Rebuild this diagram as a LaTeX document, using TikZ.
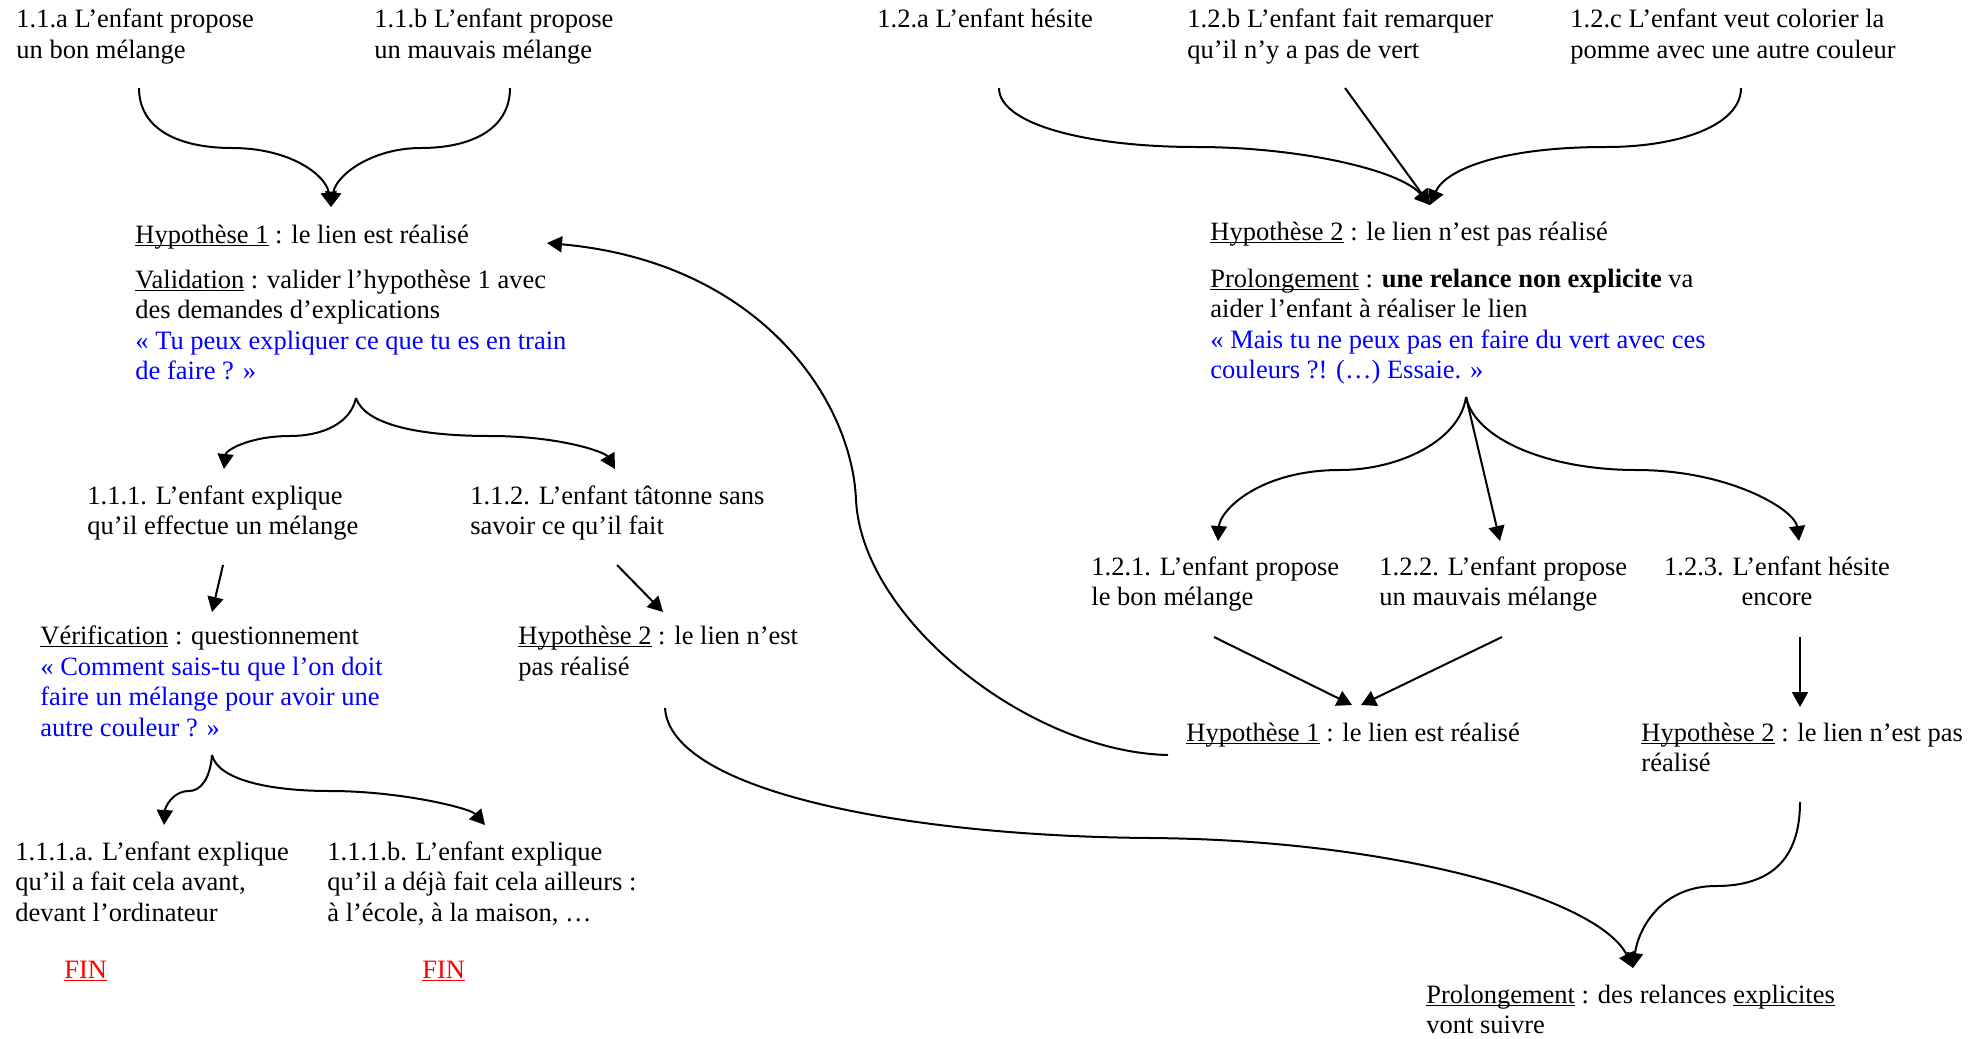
\documentclass[tikz,border=0pt]{standalone}
\usepackage{fontspec}
\setmainfont{Liberation Serif}
\usetikzlibrary{arrows.meta}
\definecolor{qblue}{RGB}{0,0,255}
\definecolor{finred}{RGB}{255,0,0}
\newsavebox{\ulbox}
\newcommand{\myul}[1]{\sbox{\ulbox}{#1}\rlap{\rule[-1.4pt]{\wd\ulbox}{0.65pt}}\usebox{\ulbox}}
\begin{document}
\begin{tikzpicture}[x=0.5pt,y=-0.5pt,
  txt/.style={anchor=base west,align=left,inner sep=0pt,font=\fontsize{13.25}{15.25}\selectfont},
  ctxt/.style={txt,anchor=base,align=center},
  conn/.style={line width=1pt,-{Triangle[length=7.5pt,width=8pt]}}]
\useasboundingbox (0,0) rectangle (1979,1038);

% ---- texts (positions are the baseline of the last line)
\node[txt] (n11a) at (16,58.5) {1.1.a L’enfant propose\\un bon mélange};
\node[txt] (n11b) at (374,58.5) {1.1.b L’enfant propose\\un mauvais mélange};
\node[txt] (n12a) at (877,28) {1.2.a L’enfant hésite};
\node[txt] (n12b) at (1187,58.5) {1.2.b L’enfant fait remarquer\\qu’il n’y a pas de vert};
\node[txt] (n12c) at (1570,58.5) {1.2.c L’enfant veut colorier la\\pomme avec une autre couleur};

\node[txt] (h1) at (135,379.5) {\myul{Hypothèse 1} : le lien est réalisé\\[7.25pt]\myul{Validation} : valider l’hypothèse 1 avec\\des demandes d’explications\\\textcolor{qblue}{« Tu peux expliquer ce que tu es en train}\\\textcolor{qblue}{de faire ? »}};
\node[txt] (h2) at (1210,378.5) {\myul{Hypothèse 2} : le lien n’est pas réalisé\\[8.25pt]\myul{Prolongement} : \textbf{une relance non explicite} va\\aider l’enfant à réaliser le lien\\\textcolor{qblue}{« Mais tu ne peux pas en faire du vert avec ces}\\\textcolor{qblue}{couleurs ?! (…) Essaie. »}};

\node[txt] (n111) at (87,534.5) {1.1.1. L’enfant explique\\qu’il effectue un mélange};
\node[txt] (n112) at (470,534.5) {1.1.2. L’enfant tâtonne sans\\savoir ce qu’il fait};
\node[txt] (verif) at (40,736) {\myul{Vérification} : questionnement\\\textcolor{qblue}{« Comment sais-tu que l’on doit}\\\textcolor{qblue}{faire un mélange pour avoir une}\\\textcolor{qblue}{autre couleur ? »}};
\node[txt] (h2l) at (518,675) {\myul{Hypothèse 2} : le lien n’est\\pas réalisé};
\node[txt] (n111a) at (15,921) {1.1.1.a. L’enfant explique\\qu’il a fait cela avant,\\devant l’ordinateur};
\node[txt] (n111b) at (327,921) {1.1.1.b. L’enfant explique\\qu’il a déjà fait cela ailleurs :\\à l’école, à la maison, …};
\node[txt,text=finred] (fin1) at (64,978) {\myul{FIN}};
\node[txt,text=finred] (fin2) at (422,978) {\myul{FIN}};

\node[txt] (n121) at (1091,605.5) {1.2.1. L’enfant propose\\le bon mélange};
\node[txt] (n122) at (1379,605.5) {1.2.2. L’enfant propose\\un mauvais mélange};
\node[ctxt] (n123) at (1777,605.5) {1.2.3. L’enfant hésite\\encore};
\node[txt] (h1r) at (1186,741) {\myul{Hypothèse 1} : le lien est réalisé};
\node[txt] (h2r) at (1641,771.5) {\myul{Hypothèse 2} : le lien n’est pas\\réalisé};
\node[txt] (prol) at (1426,1033.5) {\myul{Prolongement} : des relances \myul{explicites}\\vont suivre};

% ---- connector ends
\coordinate (a1) at (139,88);
\coordinate (a2) at (510,88);
\coordinate (t1) at (331,207);
\coordinate (b1) at (999,88);
\coordinate (b2) at (1345,88);
\coordinate (b3) at (1741,88);
\coordinate (t2) at (1430,205);
\coordinate (c0) at (356,398);
\coordinate (c1) at (224,469);
\coordinate (c2) at (615,469);
\coordinate (d0) at (212,755);
\coordinate (d1) at (164,825);
\coordinate (d2) at (485,825);
\coordinate (e0) at (1466,397);
\coordinate (e1) at (1218,541);
\coordinate (e2) at (1500,541);
\coordinate (e3) at (1799,541);
\coordinate (s1a) at (223,565);
\coordinate (s1b) at (212,612);
\coordinate (s2a) at (617,565);
\coordinate (s2b) at (663,612);
\coordinate (s3a) at (1214,637);
\coordinate (s3b) at (1352,705);
\coordinate (s4a) at (1502,637);
\coordinate (s4b) at (1361,705);
\coordinate (s5a) at (1800,637);
\coordinate (s5b) at (1800,707);
\coordinate (f0) at (1168,755);
\coordinate (f1) at (547,243);
\coordinate (g0) at (665,708);
\coordinate (g1) at (1633,968);
\coordinate (k0) at (1800,802);

% ---- brace 1.1.a / 1.1.b -> Hypothese 1
\draw[conn] (a1) .. controls (139,130) and (180,148) .. (232,148) .. controls (290,148) and (326,175) .. (t1);
\draw[conn] (a2) .. controls (510,130) and (470,148) .. (421,148) .. controls (372,148) and (336,175) .. (t1);
% ---- brace 1.2.x -> Hypothese 2
\draw[conn] (b1) .. controls (999,125) and (1090,147) .. (1196,147) .. controls (1300,147) and (1400,170) .. (t2);
\draw[conn] (b2) -- (t2);
\draw[conn] (b3) .. controls (1741,125) and (1680,147) .. (1606,147) .. controls (1500,147) and (1445,170) .. (t2);
% ---- brace under Hypothese 1 block
\draw[conn] (c0) .. controls (350,425) and (320,436) .. (290,436) .. controls (250,436) and (226,450) .. (c1);
\draw[conn] (c0) .. controls (365,425) and (420,436) .. (490,436) .. controls (560,436) and (605,452) .. (c2);
% ---- brace under Verification
\draw[conn] (d0) .. controls (210,780) and (200,791) .. (189,791) .. controls (172,791) and (165,808) .. (d1);
\draw[conn] (d0) .. controls (218,780) and (270,791) .. (330,791) .. controls (400,791) and (470,808) .. (d2);
% ---- brace under Prolongement (right)
\draw[conn] (e0) .. controls (1460,440) and (1400,470) .. (1340,470) .. controls (1260,470) and (1220,510) .. (e1);
\draw[conn] (e0) -- (e2);
\draw[conn] (e0) .. controls (1475,440) and (1550,470) .. (1636,470) .. controls (1730,470) and (1795,510) .. (e3);
% ---- straight arrows
\draw[conn] (s1a) -- (s1b);
\draw[conn] (s2a) -- (s2b);
\draw[conn] (s3a) -- (s3b);
\draw[conn] (s4a) -- (s4b);
\draw[conn] (s5a) -- (s5b);
% ---- long curves
\draw[conn] (f0) .. controls (1030,752) and (862,620) .. (856,500) .. controls (852,400) and (760,262) .. (f1);
\draw[conn] (g0) .. controls (670,790) and (900,836) .. (1150,838) .. controls (1400,840) and (1600,900) .. (g1);
\draw[conn] (k0) .. controls (1800,860) and (1770,886) .. (1716,886) .. controls (1660,886) and (1638,930) .. (g1);
\end{tikzpicture}
\end{document}
